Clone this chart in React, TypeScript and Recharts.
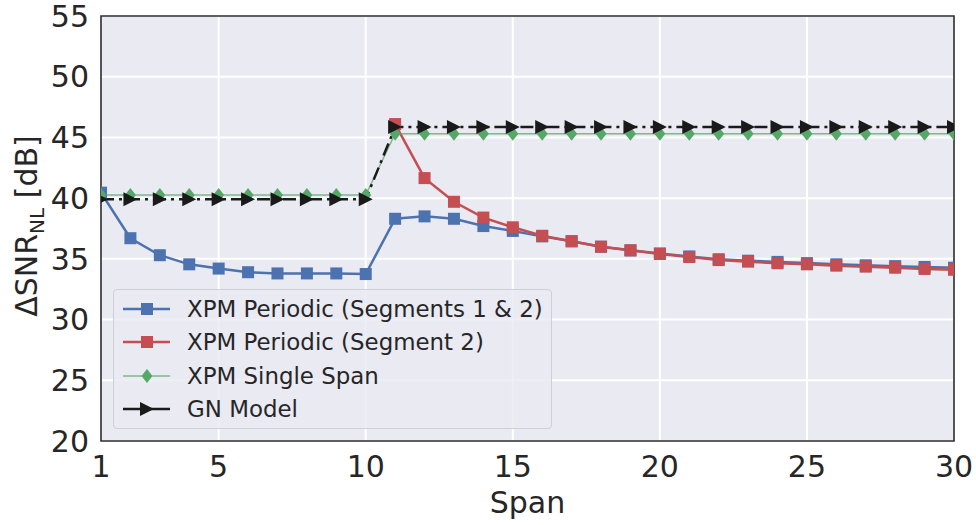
import React from "react";
import {
  LineChart,
  Line,
  XAxis,
  YAxis,
  CartesianGrid,
  ReferenceArea,
} from "recharts";

const spans = [
  1, 2, 3, 4, 5, 6, 7, 8, 9, 10, 11, 12, 13, 14, 15, 16, 17, 18, 19, 20, 21,
  22, 23, 24, 25, 26, 27, 28, 29, 30,
];

// XPM Periodic (Segments 1 & 2)
const xpmBoth = [
  40.45, 36.7, 35.3, 34.55, 34.2, 33.9, 33.8, 33.8, 33.8, 33.75, 38.3, 38.5,
  38.3, 37.7, 37.3, 36.85, 36.45, 36.0, 35.7, 35.45, 35.2, 34.97, 34.85, 34.75,
  34.65, 34.55, 34.47, 34.4, 34.33, 34.27,
];

// XPM Periodic (Segment 2)
const xpmSeg2 = [
  null, null, null, null, null, null, null, null, null, null, 46.1, 41.65,
  39.7, 38.4, 37.6, 36.9, 36.45, 36.0, 35.7, 35.4, 35.15, 34.9, 34.77, 34.64,
  34.55, 34.44, 34.36, 34.27, 34.17, 34.1,
];

// XPM Single Span
const xpmSingle = [
  40.25, 40.25, 40.25, 40.25, 40.25, 40.25, 40.25, 40.25, 40.25, 40.25, 45.3,
  45.3, 45.3, 45.3, 45.3, 45.3, 45.3, 45.3, 45.3, 45.3, 45.3, 45.3, 45.3, 45.3,
  45.3, 45.3, 45.3, 45.3, 45.3, 45.3,
];

// GN Model
const gnModel = [
  39.9, 39.9, 39.9, 39.9, 39.9, 39.9, 39.9, 39.9, 39.9, 39.9, 45.85, 45.85,
  45.85, 45.85, 45.85, 45.85, 45.85, 45.85, 45.85, 45.85, 45.85, 45.85, 45.85,
  45.85, 45.85, 45.85, 45.85, 45.85, 45.85, 45.85,
];

const xTicks = [1, 5, 10, 15, 20, 25, 30];
const yTicks = [20, 25, 30, 35, 40, 45, 50, 55];

const data = spans.map((span, i) => ({
  span,
  both: xpmBoth[i],
  seg2: xpmSeg2[i],
  single: xpmSingle[i],
  gn: gnModel[i],
}));

const BLUE = "#4C72B0";
const RED = "#C44E52";
const GREEN = "#55A868";
const BLACK = "#1a1a1a";
const TEXT = "#262626";
const FONT = "DejaVu Sans";

const square = (color: string) => (props: any) => {
  const { cx, cy, index } = props;
  if (cx == null || cy == null || props.value == null) return <g key={index} />;
  return (
    <rect key={index} x={cx - 6} y={cy - 6} width={12} height={12} fill={color} />
  );
};

const diamond = (props: any) => {
  const { cx, cy, index } = props;
  if (cx == null || cy == null) return <g key={index} />;
  return (
    <polygon
      key={index}
      points={`${cx},${cy - 7} ${cx + 5.5},${cy} ${cx},${cy + 7} ${cx - 5.5},${cy}`}
      fill={GREEN}
    />
  );
};

const triangle = (props: any) => {
  const { cx, cy, index } = props;
  if (cx == null || cy == null) return <g key={index} />;
  return (
    <polygon
      key={index}
      points={`${cx - 7},${cy - 7} ${cx + 7},${cy} ${cx - 7},${cy + 7}`}
      fill={BLACK}
    />
  );
};

const legendItems = [
  { label: "XPM Periodic (Segments 1 & 2)", color: BLUE, marker: "square", width: 2.5 },
  { label: "XPM Periodic (Segment 2)", color: RED, marker: "square", width: 2.5 },
  { label: "XPM Single Span", color: GREEN, marker: "diamond", width: 1.5 },
  { label: "GN Model", color: BLACK, marker: "triangle", width: 2.5 },
];

const LegendBox = () => (
  <div
    style={{
      position: "absolute",
      left: 113,
      top: 289,
      width: 439,
      height: 140,
      background: "rgba(234,234,242,0.8)",
      border: "1px solid #cfcfd6",
      borderRadius: 4,
      boxSizing: "border-box",
      paddingTop: 2,
    }}
  >
    {legendItems.map((item) => (
      <div
        key={item.label}
        style={{ height: 33.5, display: "flex", alignItems: "center" }}
      >
        <svg width={50} height={20} style={{ marginLeft: 8, flex: "none" }}>
          <line
            x1={1}
            y1={10}
            x2={48}
            y2={10}
            stroke={item.color}
            strokeWidth={item.width}
            strokeOpacity={item.marker === "diamond" ? 0.75 : 1}
          />
          {item.marker === "square" && (
            <rect x={19} y={4} width={12} height={12} fill={item.color} />
          )}
          {item.marker === "diamond" && (
            <polygon points="25,3 30.5,10 25,17 19.5,10" fill={item.color} />
          )}
          {item.marker === "triangle" && (
            <polygon points="18,3 32,10 18,17" fill={item.color} />
          )}
        </svg>
        <span
          style={{
            marginLeft: 15,
            fontFamily: FONT,
            fontSize: 22.9,
            color: TEXT,
            whiteSpace: "nowrap",
          }}
        >
          {item.label}
        </span>
      </div>
    ))}
  </div>
);

export default function App() {
  return (
    <div style={{ position: "absolute", left: 0, top: 0, width: 976, height: 525 }}>
      <LineChart
        width={976}
        height={525}
        data={data}
        margin={{ top: 16, right: 22, bottom: 0, left: 0 }}
      >
        <CartesianGrid
          fill="#EAEAF2"
          fillOpacity={1}
          stroke="#ffffff"
          strokeWidth={2}
          horizontalValues={yTicks}
          verticalValues={xTicks}
        />
        <XAxis
          dataKey="span"
          type="number"
          domain={[1, 30]}
          ticks={xTicks}
          interval={0}
          allowDataOverflow
          height={84}
          tickSize={0}
          tickMargin={15}
          axisLine={false}
          tick={{ fill: TEXT, fontSize: 30, fontFamily: FONT }}
          label={{
            content: () => (
              <text
                x={527.5}
                y={513}
                textAnchor="middle"
                fill={TEXT}
                fontSize={30}
                fontFamily={FONT}
              >
                Span
              </text>
            ),
          }}
        />
        <YAxis
          type="number"
          domain={[20, 55]}
          ticks={yTicks}
          interval={0}
          allowDataOverflow
          width={101}
          tickSize={0}
          tickMargin={12}
          axisLine={false}
          tick={{ fill: TEXT, fontSize: 30, fontFamily: FONT }}
          label={{
            content: () => (
              <text
                x={37}
                y={226}
                textAnchor="middle"
                transform="rotate(-90, 37, 226)"
                fill={TEXT}
                fontSize={30}
                fontFamily={FONT}
              >
                ΔSNR
                <tspan fontSize={20} dy={7}>
                  NL
                </tspan>
                <tspan dy={-7}> [dB]</tspan>
              </text>
            ),
          }}
        />
        <ReferenceArea
          x1={1}
          x2={30}
          y1={20}
          y2={55}
          fill="none"
          stroke="#2b2b2b"
          strokeWidth={1.6}
        />
        <Line
          dataKey="both"
          stroke={BLUE}
          strokeWidth={2.5}
          dot={square(BLUE)}
          activeDot={false}
          isAnimationActive={false}
        />
        <Line
          dataKey="seg2"
          stroke={RED}
          strokeWidth={2.5}
          dot={square(RED)}
          activeDot={false}
          isAnimationActive={false}
        />
        <Line
          dataKey="single"
          stroke={GREEN}
          strokeOpacity={0.75}
          strokeWidth={1.5}
          dot={diamond}
          activeDot={false}
          isAnimationActive={false}
        />
        <Line
          dataKey="gn"
          stroke={BLACK}
          strokeWidth={2.5}
          strokeDasharray="13 5 3 5"
          dot={triangle}
          activeDot={false}
          isAnimationActive={false}
        />
      </LineChart>
      <LegendBox />
    </div>
  );
}
